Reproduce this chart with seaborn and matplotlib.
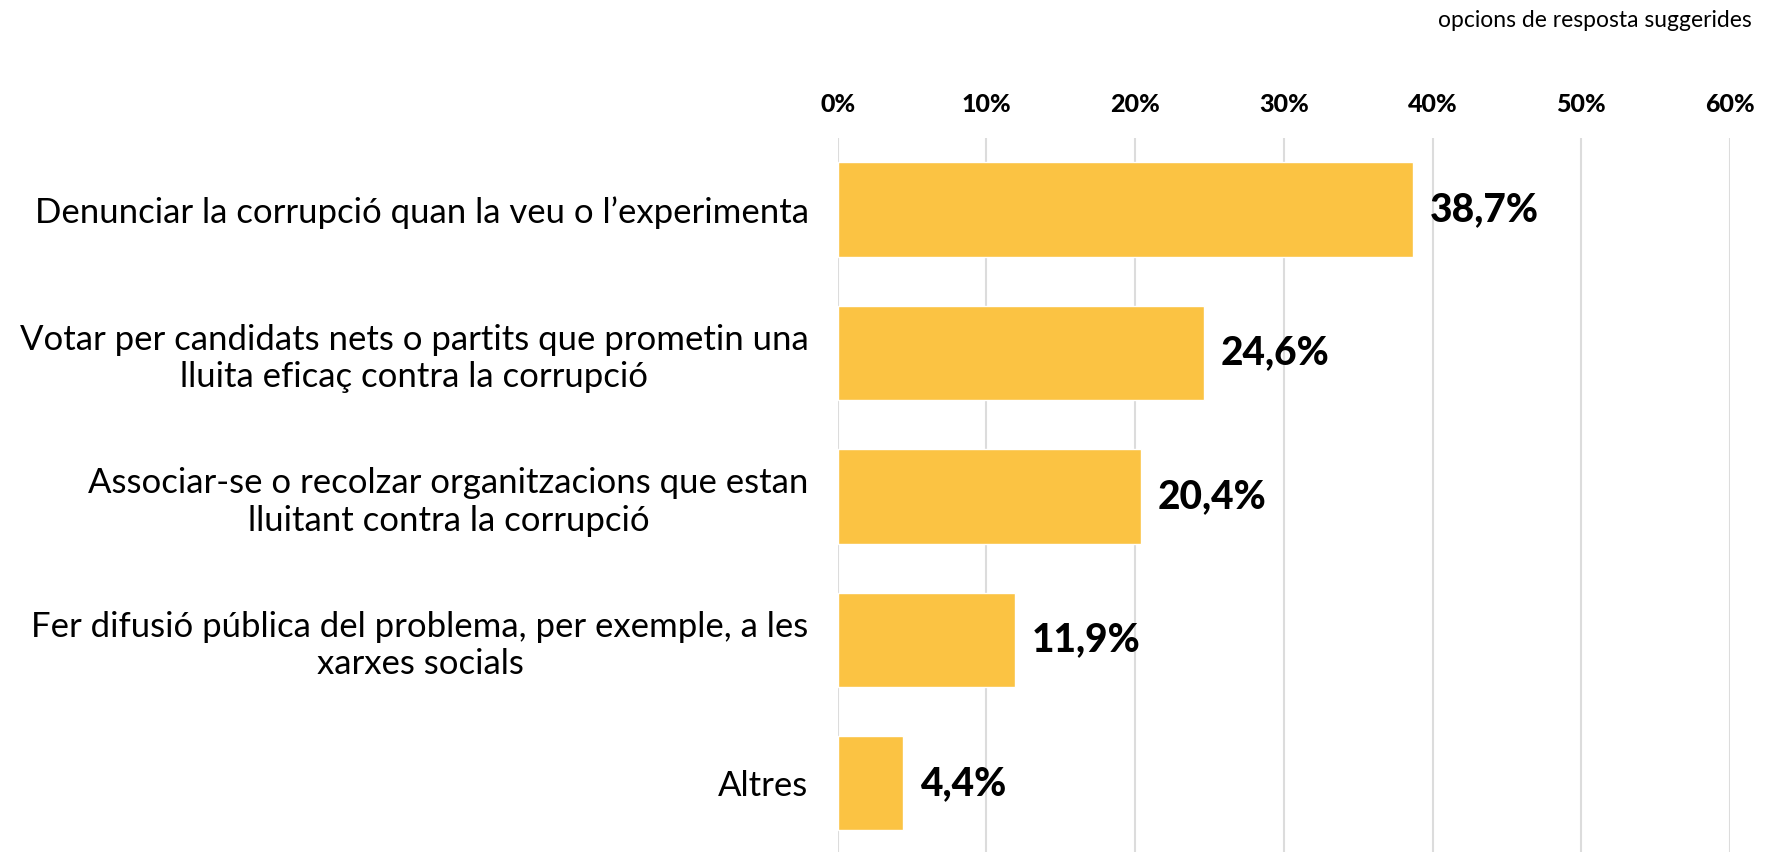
import matplotlib
matplotlib.use("Agg")
from matplotlib import pyplot as plt
import seaborn as sns

categories = [
    "Denunciar la corrupció quan la veu o l’experimenta",
    "Votar per candidats nets o partits que prometin una\nlluita eficaç contra la corrupció",
    "Associar-se o recolzar organitzacions que estan\nlluitant contra la corrupció",
    "Fer difusió pública del problema, per exemple, a les\nxarxes socials",
    "Altres",
]
values = [38.7, 24.6, 20.4, 11.9, 4.4]
value_labels = ["38,7%", "24,6%", "20,4%", "11,9%", "4,4%"]
ticks = [0, 10, 20, 30, 40, 50, 60]
tick_labels = ["0%", "10%", "20%", "30%", "40%", "50%", "60%"]

sns.set_style("white")
plt.rcParams["font.family"] = ["Lato", "DejaVu Sans"]
plt.rcParams["text.color"] = "black"

fig = plt.figure(figsize=(17.75, 8.52), dpi=100)
ax = fig.add_axes([0.472, 0.0, 0.5026, 0.838])

sns.barplot(x=values, y=categories, color="#FBC343", orient="h", width=0.66,
            saturation=1, ax=ax)

ax.set_xlim(0, 60)
ax.set_ylim(4.48, -0.5)
ax.set_xticks(ticks)
ax.set_xticklabels(tick_labels, fontsize=18, fontweight="black")
ax.xaxis.tick_top()
ax.tick_params(axis="x", length=0, pad=16, colors="black")
ax.tick_params(axis="y", length=0, pad=21, labelsize=25, colors="black")
for lab in ax.get_yticklabels():
    lab.set_multialignment("center")
    lab.set_linespacing(1.2)

ax.grid(axis="x", color="#dcdcdc", linewidth=1.5)
ax.set_axisbelow(True)
for s in ax.spines.values():
    s.set_visible(False)
ax.set_xlabel("")
ax.set_ylabel("")

for i, (v, t) in enumerate(zip(values, value_labels)):
    ax.annotate(t, (v, i), xytext=(12, 0), textcoords="offset points",
                va="center", ha="left", fontsize=28, fontweight="black",
                color="black")

fig.text(0.987, 1 - 27 / 852, "opcions de resposta suggerides", ha="right",
         va="baseline", fontsize=16.5, color="black")

fig.savefig("out.png", dpi=100)
